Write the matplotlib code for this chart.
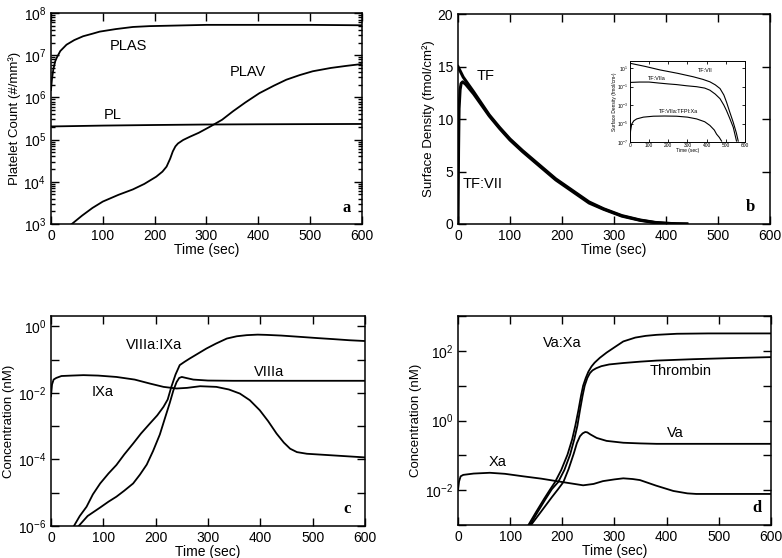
import matplotlib
matplotlib.use("Agg")
import matplotlib.pyplot as plt
from matplotlib.ticker import LogLocator, NullFormatter, NullLocator

plt.rcParams['font.family'] = ['Liberation Sans', 'DejaVu Sans']
plt.rcParams['mathtext.fontset'] = 'custom'
plt.rcParams['mathtext.rm'] = 'Liberation Sans'
plt.rcParams['mathtext.it'] = 'Liberation Sans:italic'
plt.rcParams['mathtext.bf'] = 'Liberation Sans:bold'

# ---- panel a : platelet counts ----
plasT = [0, 2, 4.5, 8, 11, 18, 30, 45, 62, 80, 94, 125, 158, 190, 223, 300, 400, 500, 600]
plasV = [1.5e6, 2.8e6, 4.6e6, 7.1e6, 8.7e6, 1.26e7, 1.78e7, 2.29e7, 2.82e7, 3.24e7, 3.63e7,
         4.17e7, 4.68e7, 4.9e7, 5.0e7, 5.25e7, 5.25e7, 5.25e7, 5.13e7]
plT = [0, 100, 200, 300, 400, 500, 600]
plV = [2.05e5, 2.15e5, 2.22e5, 2.28e5, 2.31e5, 2.33e5, 2.35e5]
plavT = [38, 60, 80, 100, 130, 158, 180, 203, 215, 223, 230, 235, 240, 245, 255, 268, 285, 306,
         330, 351, 375, 402, 430, 454, 480, 505, 540, 570, 600]
plavV = [9.5e2, 1.58e3, 2.4e3, 3.4e3, 4.9e3, 6.6e3, 8.9e3, 1.32e4, 1.74e4, 2.29e4, 3.55e4, 5.25e4,
         6.9e4, 8.1e4, 9.8e4, 1.17e5, 1.45e5, 2.0e5, 2.95e5, 4.68e5, 7.6e5, 1.26e6, 1.9e6, 2.63e6,
         3.39e6, 4.17e6, 5.0e6, 5.6e6, 6.2e6]

# ---- panel b : tissue factor ----
tfT = [0, 10, 20, 30, 45, 60, 80, 100, 124, 150, 188, 220, 252, 280, 315, 350, 379, 400, 420, 440]
tfV = [15.0, 14.0, 13.3, 12.6, 11.5, 10.4, 9.2, 8.1, 7.0, 5.9, 4.3, 3.2, 2.1, 1.45, 0.8, 0.38,
       0.15, 0.07, 0.02, 0.0]
tf7T = [0, 1, 2, 4, 6, 9, 15, 20, 30, 45, 60, 80, 100, 124, 150, 188, 220, 252, 280, 315, 350,
        379, 400, 420, 440]
tf7V = [0.0, 7.0, 11.0, 12.8, 13.4, 13.55, 13.3, 13.0, 12.4, 11.35, 10.3, 9.1, 8.0, 6.9, 5.8,
        4.2, 3.1, 2.0, 1.4, 0.75, 0.35, 0.13, 0.06, 0.02, 0.0]

# inset of panel b
inVIIT = [0, 80, 157, 250, 330, 380, 417, 445, 470, 490, 504, 520, 539, 555, 565]
inVIIV = [35, 15.8, 6.6, 2.8, 1.2, 0.63, 0.34, 0.16, 0.063, 0.0126, 2.1e-3, 2.0e-4, 1.35e-5,
          1.0e-6, 1.26e-7]
inVIIaT = [0, 50, 100, 150, 200, 243, 296, 348, 390, 417, 445, 470, 490, 504, 520, 539, 556]
inVIIaV = [0.29, 0.32, 0.32, 0.25, 0.2, 0.17, 0.126, 0.1, 0.071, 0.042, 0.0158, 5.0e-3, 1.0e-3,
           2.5e-4, 4.0e-5, 4.0e-6, 1.26e-7]
inTfpiT = [0, 3, 9, 20, 35, 70, 122, 180, 243, 300, 348, 390, 417, 440, 452, 466, 478]
inTfpiV = [1.26e-7, 1.58e-6, 8.9e-6, 2.0e-5, 3.2e-5, 5.0e-5, 6.3e-5, 6.6e-5, 6.3e-5, 5.0e-5,
           3.2e-5, 1.58e-5, 6.3e-6, 2.0e-6, 7.1e-7, 3.2e-7, 1.26e-7]

# ---- panel c : VIIIa, IXa ----
tenaseT = [40, 55, 68, 80, 94, 110, 125, 140, 157, 172, 189, 203, 215, 223, 230, 238, 246, 255,
           265, 280, 297, 315, 336, 355, 374, 395, 412, 440, 476, 510, 540, 570, 600]
tenaseV = [7.9e-7, 2.0e-6, 3.8e-6, 8.9e-6, 1.9e-5, 3.8e-5, 6.8e-5, 1.41e-4, 3.0e-4, 6.0e-4,
           1.2e-3, 2.1e-3, 3.8e-3, 6.3e-3, 1.51e-2, 3.55e-2, 6.8e-2, 8.5e-2, 1.07e-1, 1.48e-1,
           2.14e-1, 3.0e-1, 4.27e-1, 5.0e-1, 5.4e-1, 5.6e-1, 5.5e-1, 5.25e-1, 4.8e-1, 4.4e-1,
           4.1e-1, 3.8e-1, 3.6e-1]
viiiaT = [50, 70, 94, 110, 125, 140, 157, 170, 183, 195, 208, 218, 227, 234, 240, 245, 250, 258,
          272, 300, 348, 400, 500, 600]
viiiaV = [8.9e-7, 2.0e-6, 3.6e-6, 5.4e-6, 7.6e-6, 1.15e-5, 1.9e-5, 3.5e-5, 7.0e-5, 1.78e-4,
          5.6e-4, 1.78e-3, 5.0e-3, 1.2e-2, 2.1e-2, 2.8e-2, 3.0e-2, 2.8e-2, 2.5e-2, 2.34e-2,
          2.3e-2, 2.3e-2, 2.3e-2, 2.3e-2]
ixaT = [0, 2, 5, 10, 20, 40, 62, 90, 125, 160, 189, 215, 240, 260, 285, 316, 340, 361, 380, 399,
        415, 431, 445, 457, 470, 489, 520, 560, 600]
ixaV = [7.9e-3, 1.78e-2, 2.5e-2, 2.8e-2, 3.2e-2, 3.3e-2, 3.4e-2, 3.3e-2, 3.0e-2, 2.5e-2, 1.9e-2,
        1.51e-2, 1.35e-2, 1.41e-2, 1.58e-2, 1.51e-2, 1.26e-2, 9.5e-3, 6.0e-3, 3.0e-3, 1.41e-3,
        6.0e-4, 3.2e-4, 2.1e-4, 1.66e-4, 1.48e-4, 1.38e-4, 1.26e-4, 1.15e-4]

# ---- panel d : Va, Xa, thrombin ----
prothT = [135, 150, 165, 177, 186, 198, 210, 219, 225, 231, 236, 240, 245, 250, 256, 262, 272,
          285, 300, 317, 340, 360, 381, 420, 480, 540, 600]
prothV = [1.0e-3, 2.4e-3, 5.6e-3, 1.07e-2, 1.7e-2, 3.8e-2, 0.105, 0.29, 0.71, 2.0, 5.2, 10,
          16.6, 25.1, 35.5, 45.7, 63, 89, 126, 186, 240, 269, 288, 309, 316, 316, 316]
thrT = [138, 153, 168, 180, 192, 204, 215, 223, 229, 234, 239, 243, 248, 253, 258, 265, 275, 290,
        317, 350, 381, 450, 520, 600]
thrV = [1.0e-3, 2.4e-3, 5.6e-3, 1.07e-2, 1.7e-2, 3.8e-2, 0.105, 0.29, 0.71, 2.0, 5.2, 10, 16.6,
        22.9, 27.5, 31.6, 36.3, 40.7, 44.7, 49, 52.5, 57.5, 61.7, 66]
vaT = [140, 160, 180, 192, 202, 212, 222, 228, 234, 239, 244, 248, 254, 266, 285, 317, 350, 381,
       450, 600]
vaV = [1.0e-3, 2.5e-3, 6.3e-3, 1.07e-2, 1.7e-2, 4.0e-2, 0.112, 0.224, 0.355, 0.427, 0.468, 0.457,
       0.398, 0.316, 0.26, 0.23, 0.22, 0.214, 0.214, 0.214]
xaT = [0, 2, 5, 10, 30, 61, 90, 125, 160, 189, 215, 240, 260, 278, 300, 317, 335, 349, 380, 413,
       440, 457, 500, 600]
xaV = [1.0e-2, 1.78e-2, 2.5e-2, 2.75e-2, 3.0e-2, 3.16e-2, 2.95e-2, 2.5e-2, 2.14e-2, 1.82e-2,
       1.58e-2, 1.38e-2, 1.51e-2, 1.82e-2, 2.04e-2, 2.19e-2, 2.09e-2, 1.95e-2, 1.35e-2, 9.5e-3,
       8.1e-3, 7.8e-3, 7.8e-3, 7.8e-3]

timeTicks = [0, 100, 200, 300, 400, 500, 600]


def styleAxis(ax, fs=10):
    ax.tick_params(which='both', direction='in', top=True, right=True, labelsize=fs, width=1.0)
    ax.tick_params(which='major', length=6)
    ax.tick_params(which='minor', length=3)
    for s in ax.spines.values():
        s.set_linewidth(1.1)


def decadeTicks(ax, lo, hi, first):
    # a tick at every decade, a label on every second one
    exps = list(range(lo, hi + 1))
    ax.set_yticks([10.0 ** e for e in exps])
    ax.set_yticklabels(['$10^{%d}$' % e if (e - first) % 2 == 0 else '' for e in exps])
    ax.yaxis.set_minor_locator(NullLocator())


fig = plt.figure(figsize=(7.82, 5.58), dpi=100)
lc = 'black'
lw = 1.3

# panel a
axA = fig.add_axes([0.0652, 0.5986, 0.3977, 0.378])
axA.plot(plasT, plasV, color=lc, lw=lw)
axA.plot(plT, plV, color=lc, lw=lw)
axA.plot(plavT, plavV, color=lc, lw=lw)
axA.set_yscale('log')
axA.set_xlim(0, 600)
axA.set_ylim(1e3, 1e8)
axA.set_xticks(timeTicks)
axA.yaxis.set_minor_locator(LogLocator(base=10, subs=[2, 3, 4, 5, 6, 7, 8, 9], numticks=20))
axA.yaxis.set_minor_formatter(NullFormatter())
axA.set_xlabel('Time (sec)', fontsize=10, labelpad=0)
axA.set_ylabel('Platelet Count (#/mm³)', fontsize=9.5, labelpad=2)
styleAxis(axA)
axA.text(114, 1.35e7, 'PLAS', fontsize=10.5)
axA.text(345, 3.2e6, 'PLAV', fontsize=10.5)
axA.text(101, 3.0e5, 'PL', fontsize=10.5)
axA.text(563, 1.95e3, 'a', fontsize=12, fontweight='bold', family='Liberation Serif')

# panel b
axB = fig.add_axes([0.5857, 0.5986, 0.399, 0.376])
axB.plot(tfT, tfV, color=lc, lw=2.2)
axB.plot(tf7T, tf7V, color=lc, lw=2.2)
axB.set_xlim(0, 600)
axB.set_ylim(0, 20)
axB.set_xticks(timeTicks)
axB.set_yticks([0, 5, 10, 15, 20])
axB.set_xlabel('Time (sec)', fontsize=10, labelpad=0)
axB.set_ylabel('Surface Density (fmol/cm²)', fontsize=9.5, labelpad=2)
styleAxis(axB)
axB.text(36, 13.7, 'TF', fontsize=10.5)
axB.text(8, 3.4, 'TF:VII', fontsize=10.5)
axB.text(554, 1.27, 'b', fontsize=12, fontweight='bold', family='Liberation Serif')

# inset
axI = fig.add_axes([0.8056, 0.7455, 0.147, 0.145])
axI.plot(inVIIT, inVIIV, color=lc, lw=0.8)
axI.plot(inVIIaT, inVIIaV, color=lc, lw=0.8)
axI.plot(inTfpiT, inTfpiV, color=lc, lw=0.8)
axI.set_yscale('log')
axI.set_xlim(0, 600)
axI.set_ylim(1e-7, 60)
axI.set_xticks(timeTicks)
axI.set_yticks([1e1, 1e-1, 1e-3, 1e-5, 1e-7])
axI.yaxis.set_minor_locator(NullLocator())
axI.tick_params(which='both', direction='in', top=True, right=True, labelsize=3.5,
                length=2, width=0.6, pad=1)
for s in axI.spines.values():
    s.set_linewidth(0.7)
axI.set_xlabel('Time (sec)', fontsize=3.5, labelpad=0)
axI.set_ylabel('Surface Density (fmol/cm²)', fontsize=3.5, labelpad=0)
axI.text(355, 4, 'TF:VII', fontsize=4)
axI.text(95, 0.6, 'TF:VIIa', fontsize=4)
axI.text(150, 1.3e-4, 'TF:VIIa:TFPI:Xa', fontsize=4)

# panel c
axC = fig.add_axes([0.0652, 0.0573, 0.4015, 0.376])
axC.plot(tenaseT, tenaseV, color=lc, lw=lw)
axC.plot(viiiaT, viiiaV, color=lc, lw=lw)
axC.plot(ixaT, ixaV, color=lc, lw=lw)
axC.set_yscale('log')
axC.set_xlim(0, 600)
axC.set_ylim(1e-6, 2.0)
axC.set_xticks(timeTicks)
decadeTicks(axC, -6, 0, -6)
axC.set_xlabel('Time (sec)', fontsize=10, labelpad=0)
axC.set_ylabel('Concentration (nM)', fontsize=9.5, labelpad=2)
styleAxis(axC)
axC.text(143, 0.21, 'VIIIa:IXa', fontsize=10.5)
axC.text(387, 3.2e-2, 'VIIIa', fontsize=10.5)
axC.text(78, 7.9e-3, 'IXa', fontsize=10.5)
axC.text(559, 2.4e-6, 'c', fontsize=12, fontweight='bold', family='Liberation Serif')

# panel d
axD = fig.add_axes([0.5857, 0.0591, 0.400, 0.3746])
axD.plot(prothT, prothV, color=lc, lw=lw)
axD.plot(thrT, thrV, color=lc, lw=lw)
axD.plot(vaT, vaV, color=lc, lw=lw)
axD.plot(xaT, xaV, color=lc, lw=lw)
axD.set_yscale('log')
axD.set_xlim(0, 600)
axD.set_ylim(1e-3, 1e3)
axD.set_xticks(timeTicks)
decadeTicks(axD, -3, 3, -2)
axD.set_xlabel('Time (sec)', fontsize=10, labelpad=0)
axD.set_ylabel('Concentration (nM)', fontsize=9.5, labelpad=2)
styleAxis(axD)
axD.text(163, 125, 'Va:Xa', fontsize=10.5)
axD.text(368, 20, 'Thrombin', fontsize=10.5)
axD.text(400, 0.33, 'Va', fontsize=10.5)
axD.text(58, 5.0e-2, 'Xa', fontsize=10.5)
axD.text(565, 2.3e-3, 'd', fontsize=12, fontweight='bold', family='Liberation Serif')

fig.savefig('out.png', dpi=100)
